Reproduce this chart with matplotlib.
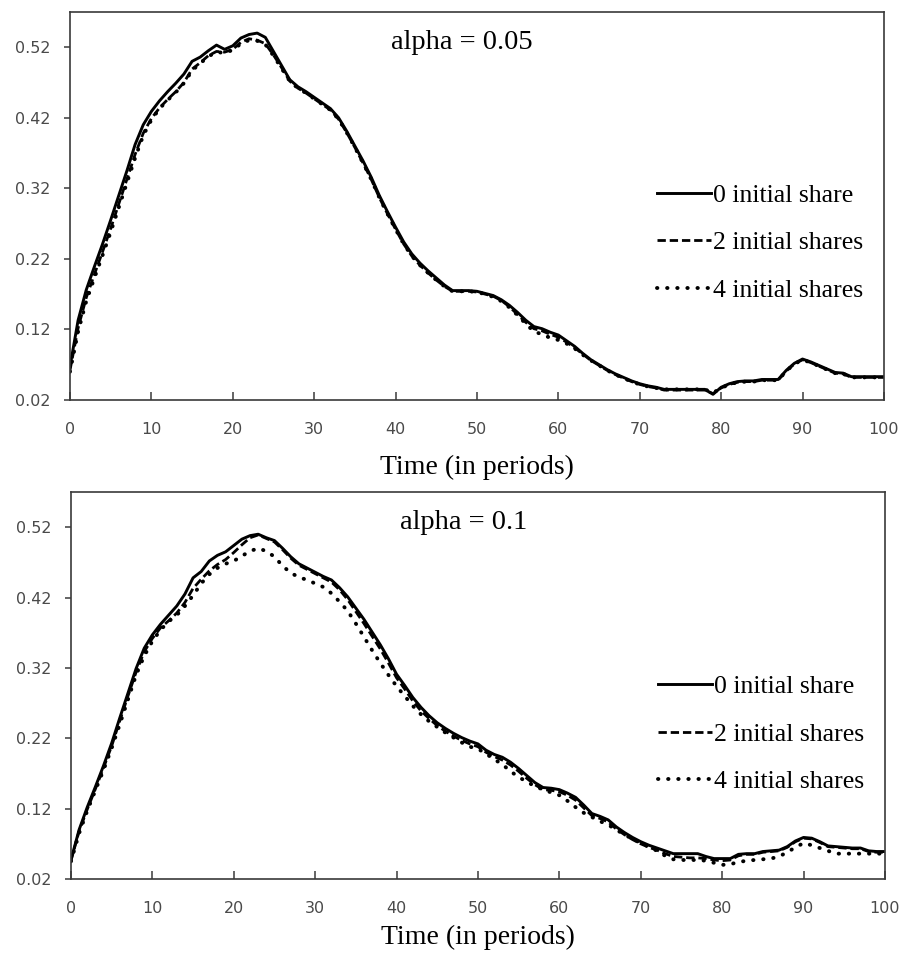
import matplotlib
matplotlib.use('Agg')
import matplotlib.pyplot as plt

# periods 0..100
t = list(range(101))

# alpha = 0.05
a05_0 = [0.067, 0.133, 0.176, 0.209, 0.241, 0.275, 0.310, 0.345, 0.382, 0.410,
         0.429, 0.444, 0.457, 0.469, 0.482, 0.500, 0.506, 0.515, 0.523, 0.517,
         0.522, 0.533, 0.538, 0.540, 0.534, 0.514, 0.494, 0.474, 0.464, 0.457,
         0.449, 0.441, 0.433, 0.420, 0.401, 0.380, 0.359, 0.336, 0.310, 0.287,
         0.265, 0.244, 0.227, 0.214, 0.203, 0.193, 0.183, 0.175, 0.175, 0.175,
         0.174, 0.171, 0.168, 0.162, 0.154, 0.144, 0.133, 0.124, 0.121, 0.116,
         0.112, 0.104, 0.096, 0.086, 0.077, 0.070, 0.063, 0.057, 0.052, 0.047,
         0.043, 0.040, 0.038, 0.035, 0.035, 0.035, 0.035, 0.035, 0.035, 0.028,
         0.038, 0.043, 0.046, 0.047, 0.047, 0.049, 0.049, 0.049, 0.062, 0.072,
         0.078, 0.074, 0.069, 0.064, 0.059, 0.058, 0.053, 0.053, 0.053, 0.053,
         0.053]
a05_2 = [0.062, 0.122, 0.165, 0.198, 0.230, 0.263, 0.298, 0.333, 0.368, 0.398,
         0.419, 0.434, 0.446, 0.457, 0.470, 0.489, 0.498, 0.508, 0.514, 0.513,
         0.517, 0.527, 0.532, 0.530, 0.525, 0.509, 0.491, 0.472, 0.462, 0.455,
         0.447, 0.439, 0.431, 0.418, 0.399, 0.378, 0.356, 0.333, 0.307, 0.284,
         0.262, 0.241, 0.224, 0.211, 0.200, 0.190, 0.181, 0.174, 0.174, 0.174,
         0.173, 0.170, 0.167, 0.161, 0.152, 0.141, 0.130, 0.121, 0.118, 0.113,
         0.109, 0.102, 0.094, 0.085, 0.076, 0.069, 0.062, 0.056, 0.051, 0.046,
         0.042, 0.039, 0.037, 0.034, 0.034, 0.034, 0.034, 0.034, 0.034, 0.029,
         0.037, 0.042, 0.045, 0.046, 0.046, 0.048, 0.048, 0.048, 0.061, 0.071,
         0.077, 0.073, 0.068, 0.063, 0.058, 0.057, 0.052, 0.052, 0.052, 0.052,
         0.052]
a05_4 = [0.060, 0.117, 0.160, 0.193, 0.225, 0.258, 0.293, 0.328, 0.363, 0.395,
         0.417, 0.433, 0.445, 0.456, 0.469, 0.487, 0.497, 0.507, 0.513, 0.512,
         0.516, 0.525, 0.530, 0.529, 0.524, 0.508, 0.490, 0.472, 0.462, 0.455,
         0.447, 0.439, 0.431, 0.418, 0.399, 0.378, 0.356, 0.333, 0.307, 0.284,
         0.262, 0.241, 0.224, 0.211, 0.200, 0.190, 0.181, 0.174, 0.174, 0.174,
         0.173, 0.170, 0.166, 0.160, 0.151, 0.140, 0.128, 0.117, 0.113, 0.108,
         0.105, 0.100, 0.093, 0.084, 0.076, 0.069, 0.062, 0.056, 0.051, 0.046,
         0.042, 0.039, 0.037, 0.035, 0.035, 0.035, 0.035, 0.035, 0.035, 0.030,
         0.037, 0.042, 0.045, 0.046, 0.046, 0.048, 0.048, 0.048, 0.061, 0.071,
         0.077, 0.073, 0.068, 0.063, 0.058, 0.057, 0.052, 0.052, 0.052, 0.052,
         0.052]

# alpha = 0.1
a10_0 = [0.047, 0.090, 0.122, 0.151, 0.181, 0.213, 0.249, 0.284, 0.319, 0.348,
         0.367, 0.382, 0.395, 0.408, 0.425, 0.448, 0.457, 0.472, 0.480, 0.485,
         0.494, 0.503, 0.508, 0.510, 0.505, 0.501, 0.490, 0.478, 0.468, 0.462,
         0.456, 0.450, 0.445, 0.434, 0.421, 0.405, 0.389, 0.371, 0.353, 0.333,
         0.311, 0.295, 0.278, 0.264, 0.252, 0.242, 0.234, 0.227, 0.221, 0.216,
         0.212, 0.203, 0.197, 0.193, 0.186, 0.177, 0.167, 0.157, 0.150, 0.149,
         0.147, 0.142, 0.136, 0.125, 0.113, 0.109, 0.104, 0.094, 0.086, 0.079,
         0.073, 0.068, 0.064, 0.060, 0.056, 0.056, 0.056, 0.056, 0.052, 0.049,
         0.049, 0.049, 0.055, 0.056, 0.056, 0.059, 0.060, 0.061, 0.066, 0.074,
         0.079, 0.078, 0.073, 0.067, 0.066, 0.065, 0.064, 0.064, 0.060, 0.059,
         0.059]
a10_2 = [0.046, 0.088, 0.119, 0.148, 0.178, 0.209, 0.245, 0.280, 0.314, 0.343,
         0.362, 0.377, 0.387, 0.398, 0.413, 0.433, 0.446, 0.458, 0.467, 0.474,
         0.484, 0.495, 0.505, 0.509, 0.504, 0.499, 0.488, 0.476, 0.466, 0.460,
         0.454, 0.448, 0.442, 0.431, 0.417, 0.400, 0.383, 0.365, 0.347, 0.327,
         0.306, 0.290, 0.273, 0.259, 0.248, 0.238, 0.230, 0.223, 0.217, 0.212,
         0.208, 0.200, 0.194, 0.189, 0.182, 0.173, 0.163, 0.154, 0.147, 0.146,
         0.144, 0.139, 0.132, 0.121, 0.110, 0.106, 0.101, 0.091, 0.083, 0.076,
         0.070, 0.065, 0.061, 0.056, 0.052, 0.051, 0.050, 0.050, 0.049, 0.047,
         0.046, 0.047, 0.053, 0.055, 0.055, 0.058, 0.059, 0.060, 0.065, 0.073,
         0.078, 0.077, 0.072, 0.066, 0.065, 0.064, 0.063, 0.063, 0.059, 0.058,
         0.058]
a10_4 = [0.045, 0.085, 0.117, 0.146, 0.175, 0.206, 0.240, 0.275, 0.310, 0.337,
         0.358, 0.374, 0.386, 0.395, 0.408, 0.423, 0.440, 0.453, 0.462, 0.468,
         0.472, 0.479, 0.486, 0.490, 0.486, 0.478, 0.465, 0.455, 0.449, 0.445,
         0.440, 0.435, 0.426, 0.414, 0.401, 0.383, 0.364, 0.345, 0.327, 0.310,
         0.294, 0.280, 0.266, 0.254, 0.244, 0.236, 0.228, 0.221, 0.214, 0.208,
         0.205, 0.198, 0.190, 0.183, 0.173, 0.165, 0.158, 0.152, 0.147, 0.143,
         0.139, 0.131, 0.122, 0.114, 0.108, 0.102, 0.097, 0.090, 0.083, 0.077,
         0.071, 0.066, 0.060, 0.053, 0.048, 0.047, 0.047, 0.047, 0.046, 0.043,
         0.040, 0.041, 0.044, 0.046, 0.047, 0.048, 0.049, 0.052, 0.058, 0.065,
         0.071, 0.068, 0.064, 0.060, 0.056, 0.056, 0.056, 0.056, 0.056, 0.056,
         0.056]

legenda = ['0 initial share', '2 initial shares', '4 initial shares']
xticks = [0, 10, 20, 30, 40, 50, 60, 70, 80, 90, 100]
yticks = [0.02, 0.12, 0.22, 0.32, 0.42, 0.52]

serif = 'Liberation Serif'
cinza = '#3a3a3a'


def painel(ax, s0, s2, s4, titulo, leg_y, lpad):
    ax.plot(t, s0, color='black', lw=2.1, solid_joinstyle='round', label=legenda[0])
    ax.plot(t, s2, color='black', lw=2.0, dashes=(3.0, 1.4), label=legenda[1])
    ax.plot(t, s4, color='black', lw=2.8, dashes=(0.1, 2.5),
            dash_capstyle='round', label=legenda[2])
    ax.set_xlim(0, 100)
    ax.set_ylim(0.02, 0.57)
    ax.set_xticks(xticks)
    ax.set_yticks(yticks)
    ax.set_yticklabels(['%.2f' % v for v in yticks])
    ax.tick_params(axis='x', direction='in', length=6, width=1.1, color=cinza,
                   pad=16, labelsize=11.5, labelcolor='#4a4a4a')
    ax.tick_params(axis='y', direction='out', length=4, width=1.1, color=cinza,
                   pad=10, labelsize=11.5, labelcolor='#4a4a4a')
    for s in ax.spines.values():
        s.set_color(cinza)
        s.set_linewidth(1.2)
    ax.set_xlabel('Time (in periods)', fontsize=20, family=serif, labelpad=lpad)
    ax.text(48.2, 0.527, titulo, fontsize=20.5, family=serif, ha='center', va='center')
    ax.legend(loc='center left', bbox_to_anchor=(0.721, leg_y), frameon=False,
              prop={'family': serif, 'size': 18.5}, handlelength=2.1,
              handletextpad=0.1, labelspacing=0.95, borderpad=0, borderaxespad=0)


fig = plt.figure(figsize=(9.04, 9.55), dpi=100)
ax1 = fig.add_axes([0.0774, 0.5812, 0.9004, 0.4063])
ax2 = fig.add_axes([0.0785, 0.0796, 0.9004, 0.4052])

painel(ax1, a05_0, a05_2, a05_4, 'alpha = 0.05', 0.405, 13)
painel(ax2, a10_0, a10_2, a10_4, 'alpha = 0.1', 0.374, 6)

fig.savefig('out.png', dpi=100)
